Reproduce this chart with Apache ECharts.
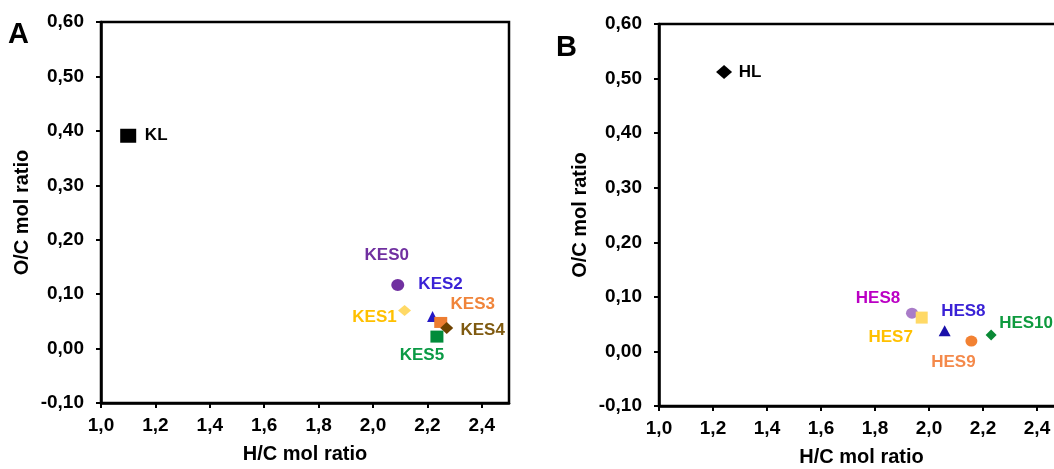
<!DOCTYPE html>
<html>
<head>
<meta charset="utf-8">
<script src="https://cdn.jsdelivr.net/npm/echarts@6/dist/echarts.min.js"></script>
<style>html,body{margin:0;padding:0;background:#fff;}#c{width:1054px;height:469px;}</style>
</head>
<body>
<div id="c"></div>
<script>
// ---- data ----
const xTicks = [1.0, 1.2, 1.4, 1.6, 1.8, 2.0, 2.2, 2.4];
const namesA = ['KL', 'KES0', 'KES1', 'KES2', 'KES3', 'KES4', 'KES5'];
const hcA    = [1.10, 2.091, 2.116, 2.219, 2.249, 2.271, 2.235];
const ocA    = [0.391, 0.117, 0.070, 0.059, 0.048, 0.038, 0.022];
const namesB = ['HL', 'HES8', 'HES7', 'HES8', 'HES9', 'HES10'];
const hcB    = [1.241, 1.937, 1.973, 2.058, 2.157, 2.230];
const ocB    = [0.512, 0.070, 0.062, 0.038, 0.019, 0.030];

// ---- styles ----
const styleA = [
  {symbol:'rect', size:[16,14], color:'#000000', label:'#000000', off:[28,0]},
  {symbol:'circle', size:[13,12], color:'#7030A0', label:'#7030A0', off:[-11,-30]},
  {symbol:'diamond', size:[13,11], color:'#FFD966', label:'#FFC000', off:[-30,7]},
  {symbol:'triangle', size:[11,11], color:'#2518C4', label:'#3A22D6', off:[8,-32]},
  {symbol:'rect', size:[13,11], color:'#ED7D31', label:'#F0843A', off:[32,-18]},
  {symbol:'diamond', size:[13,12], color:'#6E4200', label:'#7F5A10', off:[36,2]},
  {symbol:'rect', size:[13,12], color:'#008B3A', label:'#0A9A45', off:[-15,18.5]}
];
const styleB = [
  {symbol:'diamond', size:[16,14], color:'#000000', label:'#000000', off:[26,0]},
  {symbol:'circle', size:[12,11], color:'#A97CC8', label:'#BB00C4', off:[-34,-14.5]},
  {symbol:'rect', size:[12,12], color:'#FFD966', label:'#FFC000', off:[-31,19.3]},
  {symbol:'triangle', size:[12,11], color:'#1A10AA', label:'#3A22D6', off:[18.7,-19.8]},
  {symbol:'circle', size:[12,11], color:'#F28132', label:'#F4894A', off:[-18,21]},
  {symbol:'diamond', size:[11,11], color:'#0A8A36', label:'#0E9A3E', off:[35,-11.6]}
];

const FONT = "'Liberation Sans', Arial, sans-serif";

function buildData(names, xs, ys, styles) {
  return names.map((n, i) => ({
    name: n,
    value: [xs[i], ys[i]],
    symbol: styles[i].symbol,
    symbolSize: styles[i].size,
    itemStyle: {color: styles[i].color, opacity: 1},
    label: {
      show: true, position: 'inside', offset: styles[i].off,
      formatter: n, color: styles[i].label,
      fontFamily: FONT, fontWeight: 'bold', fontSize: 17
    }
  }));
}

function xAxisCfg(gi) {
  return {
    gridIndex: gi, type: 'value', min: 1.0, max: 2.5, interval: 0.2,
    name: 'H/C mol ratio', nameLocation: 'middle', nameGap: 41,
    nameTextStyle: {fontFamily: FONT, fontWeight: 'bold', fontSize: 20, color: '#000'},
    axisLine: {show: true, onZero: false, lineStyle: {color: '#000', width: 2.5}},
    axisTick: {show: true, inside: false, length: 5, lineStyle: {color: '#000', width: 2}, customValues: xTicks},
    axisLabel: {customValues: xTicks, margin: 13, color: '#000', fontFamily: FONT, fontWeight: 'bold', fontSize: 19,
      formatter: v => v.toFixed(1).replace('.', ',')},
    splitLine: {show: false}
  };
}
function yAxisCfg(gi) {
  return {
    gridIndex: gi, type: 'value', min: -0.1, max: 0.6, interval: 0.1,
    name: 'O/C mol ratio', nameLocation: 'middle', nameGap: 69,
    nameTextStyle: {fontFamily: FONT, fontWeight: 'bold', fontSize: 20, color: '#000'},
    axisLine: {show: true, onZero: false, lineStyle: {color: '#000', width: 2.5}},
    axisTick: {show: true, inside: false, length: 5, lineStyle: {color: '#000', width: 2}},
    axisLabel: {margin: 17, color: '#000', fontFamily: FONT, fontWeight: 'bold', fontSize: 19,
      formatter: v => v.toFixed(2).replace('.', ',')},
    splitLine: {show: false}
  };
}

const chart = echarts.init(document.getElementById('c'), null, {renderer: 'canvas'});
chart.setOption({
  animation: false,
  backgroundColor: '#fff',
  graphic: [
    {type: 'text', left: 8, top: 20, style: {text: 'A', font: "bold 29px " + FONT, fill: '#000'}},
    {type: 'text', left: 556, top: 33, style: {text: 'B', font: "bold 29px " + FONT, fill: '#000'}}
  ],
  grid: [
    {left: 101, top: 22, width: 408, height: 381, show: true, borderColor: '#000', borderWidth: 2.5,
     backgroundColor: 'transparent', outerBoundsMode: 'none', containLabel: false},
    {left: 659, top: 24, width: 405, height: 382, show: true, borderColor: '#000', borderWidth: 2.5,
     backgroundColor: 'transparent', outerBoundsMode: 'none', containLabel: false}
  ],
  xAxis: [xAxisCfg(0), xAxisCfg(1)],
  yAxis: [yAxisCfg(0), yAxisCfg(1)],
  series: [
    {type: 'scatter', xAxisIndex: 0, yAxisIndex: 0, data: buildData(namesA, hcA, ocA, styleA), z: 3},
    {type: 'scatter', xAxisIndex: 1, yAxisIndex: 1, data: buildData(namesB, hcB, ocB, styleB), z: 3}
  ]
});
</script>
</body>
</html>
